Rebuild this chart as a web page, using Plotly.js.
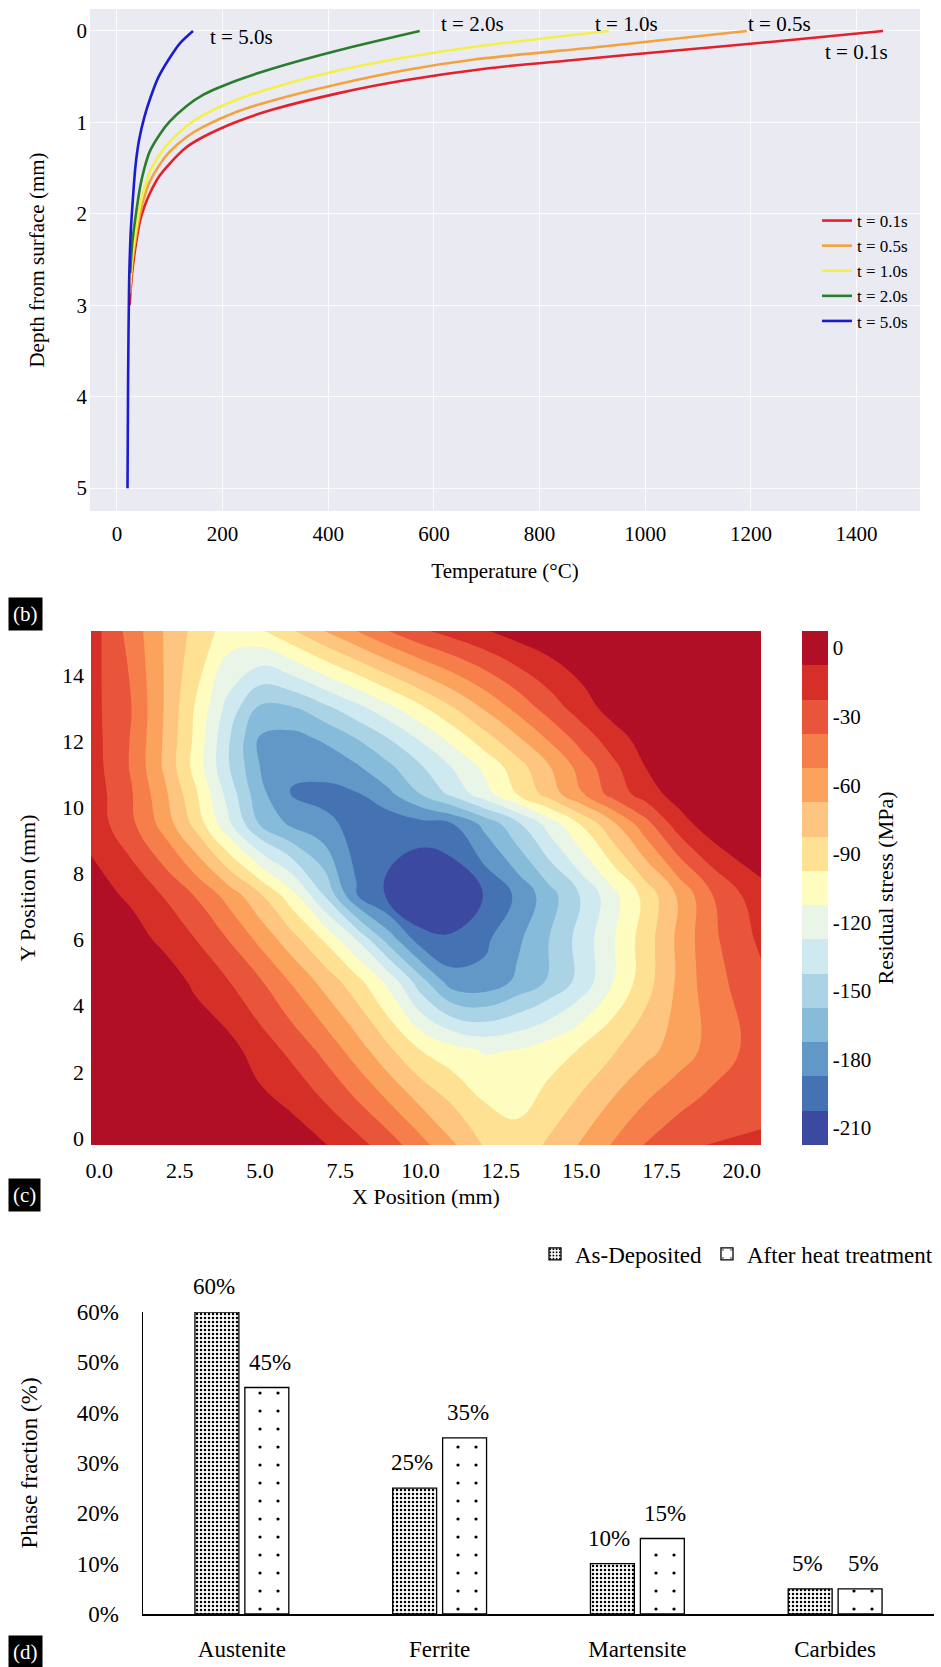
<!DOCTYPE html>
<html><head><meta charset="utf-8">
<script src="https://cdn.plot.ly/plotly-3.0.1.min.js"></script>
<style>html,body{margin:0;padding:0;background:#fff;}#chart{width:941px;height:1667px;}</style>
</head><body><div id="chart"></div>
<script>
// ---------- Panel 1: temperature vs depth ----------
const depth_t01 = [0, 0.12, 0.22, 0.32, 0.41, 0.54, 0.68, 0.86, 0.99, 1.16, 1.27, 1.45, 1.59, 1.78, 1.92, 2.07, 2.29, 2.58, 2.83, 3.0];
const temp_t01  = [1450, 1236, 1047, 860, 700, 545, 420, 295, 228, 163, 132, 100, 80, 62, 52, 44, 37, 30, 26, 24];
const depth_t05 = [0, 0.17, 0.31, 0.43, 0.58, 0.76, 0.88, 1.05, 1.16, 1.32, 1.47, 1.65, 1.81, 1.99, 2.21, 2.54, 2.87];
const temp_t05  = [1192, 920, 680, 545, 420, 295, 228, 163, 132, 100, 80, 62, 52, 44, 37, 29, 25];
const depth_t10 = [0, 0.17, 0.29, 0.43, 0.62, 0.75, 0.92, 1.04, 1.21, 1.36, 1.54, 1.72, 1.90, 2.14, 2.47, 2.76];
const temp_t10  = [931, 680, 545, 420, 295, 228, 163, 132, 100, 80, 62, 52, 44, 37, 29, 25];
const depth_t20 = [0, 0.21, 0.41, 0.54, 0.70, 0.82, 0.99, 1.14, 1.32, 1.50, 1.70, 1.96, 2.32, 2.65];
const temp_t20  = [573, 420, 295, 228, 163, 132, 100, 80, 62, 52, 44, 37, 29, 25];
const depth_t50 = [0, 0.13, 0.32, 0.5, 0.72, 0.94, 1.19, 1.48, 1.85, 2.21, 2.76, 3.9, 5.0];
const temp_t50  = [144, 120, 97, 79, 64, 52, 42, 35, 30, 26, 23, 21, 20];
const timeNames = ['t = 0.1s', 't = 0.5s', 't = 1.0s', 't = 2.0s', 't = 5.0s'];
const timeColors = ['#e3202c', '#f2a23e', '#f3f04c', '#2a7d2e', '#1c1ccf'];
const tempTicks = [0, 200, 400, 600, 800, 1000, 1200, 1400];
const depthTicks = [0, 1, 2, 3, 4, 5];

// ---------- Panel 2: residual stress contour ----------
const stressX = [-0.26, 1, 2, 3, 4, 5, 6, 7, 8, 9, 10, 11, 12, 13, 14, 15, 16, 17, 18, 19, 20.6];
const stressY = [-0.21, 2.66, 4.75, 6.0, 7.33, 9.5, 10.4, 11.22, 12.1, 13.0, 15.33];
const stressZ = [
  [5, 5, 5, 5, 5, 5, 2, -6.5, -17, -30, -47, -65, -84, -92, -80, -66, -51, -36.5, -26.5, -22, -21],
  [5, 5, 5, 4, -2, -14.4, -26.5, -41.6, -59.8, -79.5, -97.5, -107, -114, -112, -105, -96, -84, -72.5, -61, -48, -30],
  [5, 5, 1, -10.8, -21.9, -36.1, -54.3, -72.9, -92.2, -117, -151.9, -181.7, -183.5, -169.8, -155.8, -137.5, -112.5, -89, -65.4, -43.9, -26],
  [3, -1, -11, -22.5, -37.5, -56.3, -76.7, -98.9, -127.5, -163.9, -195, -199.4, -190.2, -175.8, -157.5, -136.7, -113.7, -90, -65, -41.8, -19.5],
  [-1, -10.1, -23.2, -38.4, -57.5, -80, -106.5, -142.5, -186.6, -205.5, -223, -219, -201.5, -185, -163.9, -141.3, -117.5, -92.5, -66.1, -40, -12],
  [-12.6, -34.5, -58, -87.5, -123.8, -158.7, -175.9, -184.5, -191.2, -197, -192.2, -187.5, -168.2, -146, -121.2, -96.2, -70.2, -43, -15.7, 1, 6],
  [-13.5, -36.3, -63.3, -95.2, -132.4, -168, -188.5, -191, -188.9, -176, -157.5, -138.5, -118.5, -97.5, -76.1, -53.7, -31.5, -15.6, -1, 4, 7],
  [-15, -39, -69.2, -103.1, -140.6, -172.5, -185, -183, -174.5, -160.8, -144.2, -126.6, -108.8, -89.5, -68.6, -46.7, -26.3, -7.5, 2, 6, 8],
  [-16, -38.5, -68.5, -101, -140, -174, -177, -170, -157, -142, -125, -107, -88, -69.5, -50, -31, -14, -1, 5, 7, 8],
  [-17, -37.5, -67.5, -99.2, -132.5, -160.5, -159.2, -146.6, -132.5, -117.2, -100.8, -83.4, -65.7, -48.1, -30.8, -15, -1, 5, 8, 8, 8],
  [-15, -43.8, -67.9, -87.5, -103.9, -99.8, -84.2, -67.5, -52.5, -37.5, -25, -16.5, -8.7, -1, 4, 8, 8, 8, 8, 8, 8]
];
const stressXTicks = [0, 2.5, 5, 7.5, 10, 12.5, 15, 17.5, 20];
const stressXTickText = ['0.0', '2.5', '5.0', '7.5', '10.0', '12.5', '15.0', '17.5', '20.0'];
const stressYTicks = [0, 2, 4, 6, 8, 10, 12, 14];
const stressBarTicks = [0, -30, -60, -90, -120, -150, -180, -210];
const stressBarText = ['0', '-30', '-60', '-90', '-120', '-150', '-180', '-210'];
// band colours from most negative to 0
const stressBandColors = ['#3b4aa0', '#4572b2', '#6198c7', '#86bbd9', '#abd3e6', '#cfe9f1', '#e9f5e6',
  '#fefdbf', '#fee193', '#fdc57f', '#fba35d', '#f67e4b', '#e9553a', '#d62f27', '#b10f26'];

// ---------- Panel 3: phase fractions ----------
const phases = ['Austenite', 'Ferrite', 'Martensite', 'Carbides'];
const asDeposited = [60, 25, 10, 5];
const afterHeat = [45, 35, 15, 5];
const phaseTicks = [0, 10, 20, 30, 40, 50, 60];
const phaseTickText = ['0%', '10%', '20%', '30%', '40%', '50%', '60%'];

// ---------- figure ----------
const W = 941, H = 1667;
const fx = v => v / W;
const fy = v => 1 - v / H;
const SERIF = "'Liberation Serif', 'Times New Roman', Times, serif";
const tickF = s => ({family: SERIF, size: s, color: '#000'});

const depthSets = [depth_t01, depth_t05, depth_t10, depth_t20, depth_t50];
const tempSets = [temp_t01, temp_t05, temp_t10, temp_t20, temp_t50];

const traces = [];
for (let i = 0; i < 5; i++) {
  traces.push({
    type: 'scatter', mode: 'lines', x: tempSets[i], y: depthSets[i], name: timeNames[i],
    line: {color: timeColors[i], width: 2.6, shape: 'spline', smoothing: 0.7},
    xaxis: 'x', yaxis: 'y', legend: 'legend', hoverinfo: 'skip'
  });
}

const nb = stressBandColors.length;
const stressScale = stressBandColors.map((c, i) => [i / (nb - 1), c]);
traces.push({
  type: 'contour', x: stressX, y: stressY, z: stressZ, xaxis: 'x2', yaxis: 'y2',
  colorscale: stressScale, autocontour: false, zauto: false, zmin: -217.5, zmax: 7.5,
  contours: {start: -202.5, end: -7.5, size: 15, coloring: 'fill', showlines: false},
  line: {width: 0, smoothing: 1.2}, showlegend: false, hoverinfo: 'skip',
  colorbar: {
    x: fx(802), xanchor: 'left', xref: 'paper', xpad: 0, ypad: 0,
    y: (fy(631) + fy(1145)) / 2, yanchor: 'middle', len: (1145 - 631) / H, lenmode: 'fraction',
    thickness: 26, thicknessmode: 'pixels', outlinewidth: 0,
    tickmode: 'array', tickvals: stressBarTicks, ticktext: stressBarText, ticks: '',
    tickfont: tickF(21),
    title: {text: 'Residual stress (MPa)', side: 'right', font: tickF(22)}
  }
});

traces.push({
  type: 'bar', x: phases, y: asDeposited, name: 'As-Deposited', xaxis: 'x3', yaxis: 'y3', legend: 'legend2',
  marker: {color: 'white', line: {color: '#000', width: 1.3},
    pattern: {shape: '.', fgcolor: '#000', bgcolor: 'white', size: 4, solidity: 0.3}},
  hoverinfo: 'skip'
});
traces.push({
  type: 'bar', x: phases, y: afterHeat, name: 'After heat treatment', xaxis: 'x3', yaxis: 'y3', legend: 'legend2',
  marker: {color: 'white', line: {color: '#000', width: 1.3},
    pattern: {shape: '.', fgcolor: '#000', bgcolor: 'white', size: 18, solidity: 0.025}},
  hoverinfo: 'skip'
});

const timeLabelShift = [[-60, -21], [-1, 7], [-16, 7], [19, 7], [15, -6]];
const annotations = [];
for (let i = 0; i < 5; i++) {
  annotations.push({
    xref: 'x', yref: 'y', x: tempSets[i][0], y: depthSets[i][0], text: timeNames[i],
    showarrow: false, xanchor: 'left', yanchor: 'middle',
    xshift: timeLabelShift[i][0], yshift: timeLabelShift[i][1], font: tickF(21)
  });
}
for (let i = 0; i < phases.length; i++) {
  annotations.push({xref: 'x3', yref: 'y3', x: phases[i], y: asDeposited[i], text: asDeposited[i] + '%',
    showarrow: false, xanchor: 'center', yanchor: 'bottom', xshift: -28, yshift: 11, font: tickF(23)});
  annotations.push({xref: 'x3', yref: 'y3', x: phases[i], y: afterHeat[i], text: afterHeat[i] + '%',
    showarrow: false, xanchor: 'center', yanchor: 'bottom', xshift: 28, yshift: 11, font: tickF(23)});
}
[['(b)', 614], ['(c)', 1195], ['(d)', 1652]].forEach(([t, yy]) => {
  annotations.push({xref: 'paper', yref: 'paper', x: fx(8), y: fy(yy), xanchor: 'left', yanchor: 'middle',
    text: t, showarrow: false, bgcolor: '#000', borderpad: 4, font: {family: SERIF, size: 21, color: '#fff'}});
});

const layout = {
  width: W, height: H, margin: {l: 0, r: 0, t: 0, b: 0},
  paper_bgcolor: '#fff', plot_bgcolor: '#fff',
  font: {family: SERIF, color: '#000'},
  showlegend: true,
  barmode: 'group', bargap: 0.495, bargroupgap: 0.12,
  xaxis: {domain: [fx(90), fx(920)], anchor: 'y', range: [-51, 1520],
    tickmode: 'array', tickvals: tempTicks, ticks: '', showgrid: true, gridcolor: 'rgba(255,255,255,0.85)', gridwidth: 1,
    zeroline: false, showline: false, tickfont: tickF(21), ticklabelstandoff: 8,
    title: {text: 'Temperature (°C)', font: tickF(21), standoff: 18}},
  yaxis: {domain: [fy(511), fy(9)], anchor: 'x', range: [5.25, -0.24],
    tickmode: 'array', tickvals: depthTicks, ticks: '', showgrid: true, gridcolor: 'rgba(255,255,255,0.85)', gridwidth: 1,
    zeroline: false, showline: false, tickfont: tickF(21), ticklabelstandoff: 2,
    title: {text: 'Depth from surface (mm)', font: tickF(21), standoff: 26}},
  xaxis2: {domain: [fx(91), fx(761)], anchor: 'y2', range: [-0.26, 20.6],
    tickmode: 'array', tickvals: stressXTicks, ticktext: stressXTickText, ticks: '', showgrid: false,
    zeroline: false, showline: false, tickfont: tickF(22), ticklabelstandoff: 10,
    title: {text: 'X Position (mm)', font: tickF(22), standoff: 6}},
  yaxis2: {domain: [fy(1145), fy(631)], anchor: 'x2', range: [-0.21, 15.33],
    tickmode: 'array', tickvals: stressYTicks, ticks: '', showgrid: false,
    zeroline: false, showline: false, tickfont: tickF(22), ticklabelstandoff: 6,
    title: {text: 'Y Position (mm)', font: tickF(22), standoff: 20}},
  xaxis3: {domain: [fx(143), fx(934)], anchor: 'y3', type: 'category',
    ticks: '', showgrid: false, zeroline: false, showline: true, linecolor: '#000', linewidth: 1.5,
    tickfont: tickF(23), ticklabelstandoff: 14},
  yaxis3: {domain: [fy(1614), fy(1312)], anchor: 'x3', range: [0, 60],
    tickmode: 'array', tickvals: phaseTicks, ticktext: phaseTickText, ticks: '', showgrid: false,
    zeroline: false, showline: true, linecolor: '#000', linewidth: 1.5, tickfont: tickF(23), ticklabelstandoff: 18,
    title: {text: 'Phase fraction (%)', font: tickF(23), standoff: 32}},
  legend: {x: fx(817), y: fy(203), xanchor: 'left', yanchor: 'top', bgcolor: 'rgba(0,0,0,0)',
    font: tickF(17), tracegroupgap: 0, itemwidth: 30},
  legend2: {orientation: 'h', x: fx(535), y: fy(1254), xanchor: 'left', yanchor: 'middle', bgcolor: 'rgba(0,0,0,0)',
    font: tickF(23)},
  shapes: [{type: 'rect', xref: 'x domain', yref: 'y domain', x0: 0, x1: 1, y0: 0, y1: 1,
    fillcolor: '#eaeaf2', line: {width: 0}, layer: 'below'}],
  annotations: annotations
};

Plotly.newPlot('chart', traces, layout, {staticPlot: true, displayModeBar: false});
</script></body></html>
